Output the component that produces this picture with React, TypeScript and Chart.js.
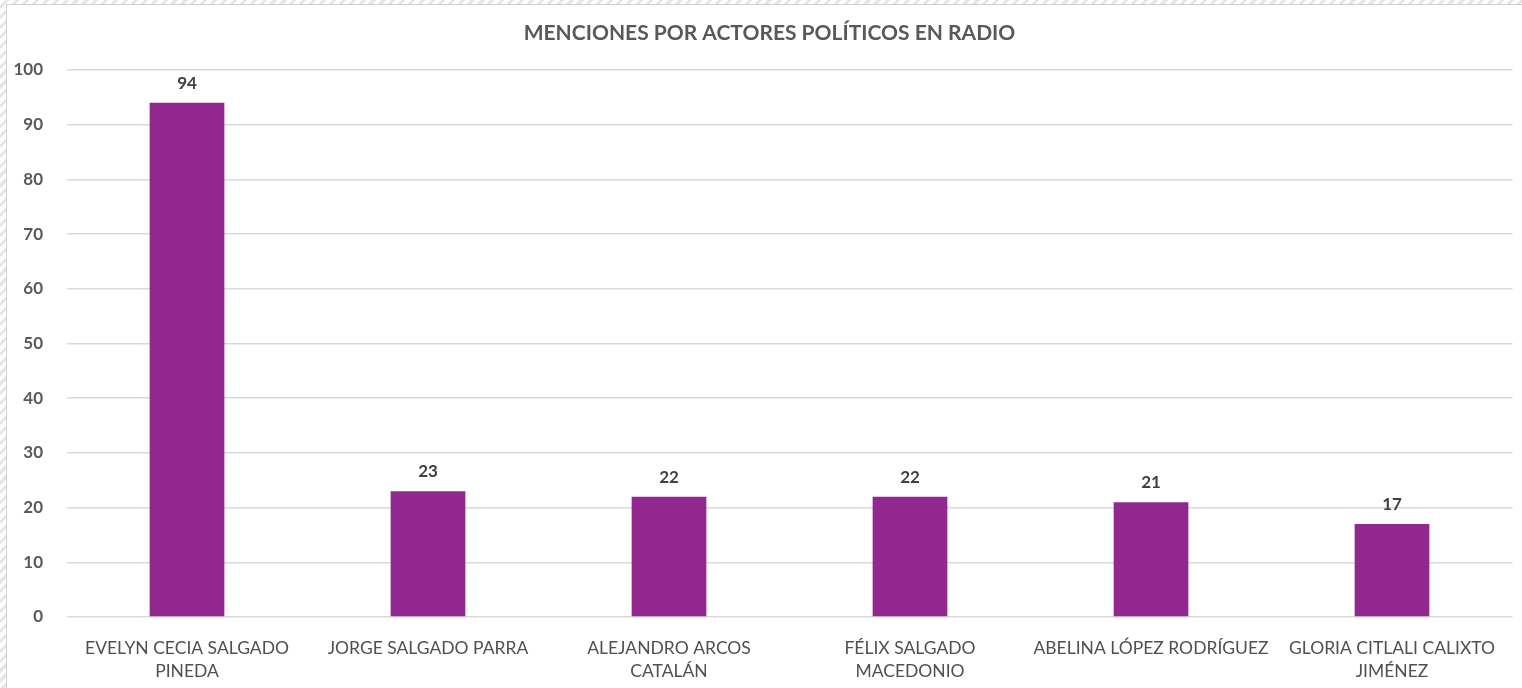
import React, { useEffect, useRef } from "react";
import { Chart, registerables } from "chart.js";

Chart.register(...registerables);

const TITLE = "MENCIONES POR ACTORES POLÍTICOS EN RADIO";
const CATEGORIES: string[][] = [
  ["EVELYN CECIA SALGADO", "PINEDA"],
  ["JORGE SALGADO PARRA"],
  ["ALEJANDRO ARCOS", "CATALÁN"],
  ["FÉLIX SALGADO", "MACEDONIO"],
  ["ABELINA LÓPEZ RODRÍGUEZ"],
  ["GLORIA CITLALI CALIXTO", "JIMÉNEZ"],
];
const MENCIONES = [94, 23, 22, 22, 21, 17];
const Y_MIN = 0;
const Y_MAX = 100;
const Y_STEP = 10;

const FONT = "Lato, 'Open Sans', sans-serif";

const valueLabels = {
  id: "valueLabels",
  afterDatasetsDraw(chart: any) {
    const ctx = chart.ctx;
    ctx.save();
    ctx.font = `bold 17px ${FONT}`;
    ctx.fillStyle = "#404040";
    ctx.textAlign = "center";
    ctx.textBaseline = "alphabetic";
    chart.data.datasets.forEach((ds: any, di: number) => {
      const meta = chart.getDatasetMeta(di);
      meta.data.forEach((bar: any, i: number) => {
        ctx.fillText(String(ds.data[i]), bar.x, bar.y - 14);
      });
    });
    ctx.restore();
  },
};

const titlePlugin = {
  id: "titlePlugin",
  afterDraw(chart: any) {
    const ctx = chart.ctx;
    ctx.save();
    ctx.font = `bold 21px ${FONT}`;
    ctx.fillStyle = "#595959";
    ctx.textAlign = "center";
    ctx.textBaseline = "middle";
    ctx.fillText(TITLE, 769.5, 33);
    ctx.restore();
  },
};

export default function App() {
  const ref = useRef<HTMLCanvasElement | null>(null);

  useEffect(() => {
    document.body.style.margin = "0";
    const chart = new Chart(ref.current!, {
      type: "bar",
      data: {
        labels: CATEGORIES,
        datasets: [
          {
            data: MENCIONES,
            backgroundColor: "#92278F",
            borderWidth: 0,
            barPercentage: 0.31,
            categoryPercentage: 1,
          },
        ],
      },
      options: {
        animation: false,
        responsive: false,
        maintainAspectRatio: false,
        layout: { padding: { left: 0, right: 9.5, top: 70, bottom: 0 } },
        plugins: {
          legend: { display: false },
          tooltip: { enabled: false },
          title: { display: false },
        },
        scales: {
          x: {
            grid: { display: false },
            border: { display: false },
            ticks: {
              color: "#505050",
              font: { family: FONT, size: 17.5, lineHeight: 1.32 },
              maxRotation: 0,
              autoSkip: false,
              padding: 12,
            },
            afterFit(scale: any) {
              scale.height = 71;
            },
          },
          y: {
            min: Y_MIN,
            max: Y_MAX,
            ticks: {
              stepSize: Y_STEP,
              color: "#595959",
              font: { family: FONT, size: 17, weight: "bold" },
              padding: 23.5,
            },
            grid: { color: "#d9d9d9", lineWidth: 1.5, drawTicks: false },
            border: { display: false },
            afterFit(scale: any) {
              scale.width = 66.5;
            },
          },
        },
      },
      plugins: [valueLabels, titlePlugin],
    });
    return () => chart.destroy();
  }, []);

  const hatch =
    "repeating-linear-gradient(135deg, #ffffff 0px, #ffffff 4px, #e6e6e6 4px, #e6e6e6 7px)";

  return (
    <div style={{ position: "relative", width: 1522, height: 688, background: hatch, overflow: "hidden" }}>
      <div
        style={{
          position: "absolute",
          left: 6,
          top: 4,
          width: 1530,
          height: 700,
          background: "#ffffff",
          borderLeft: "1px solid #d0d0d0",
          borderTop: "1px solid #d0d0d0",
        }}
      />
      <canvas ref={ref} width={1522} height={688} style={{ position: "absolute", left: 0, top: 0 }} />
    </div>
  );
}
